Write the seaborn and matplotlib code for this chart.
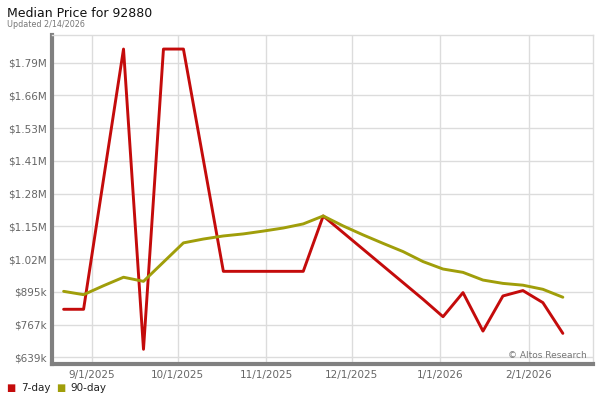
import pandas as pd
import matplotlib
matplotlib.use("Agg")
import matplotlib.pyplot as plt
import seaborn as sns

# Weekly data points
dates = pd.date_range("2025-08-22", "2026-02-13", freq="7D")
price_7day = [827, 827, 1335, 1842, 671, 1842, 1842, 1409, 975, 975,
              975, 975, 975, 1191, 1126, 1061, 996, 931, 866, 798,
              892, 742, 879, 900, 853, 733]
price_90day = [897, 884, 919, 952, 936, 1011, 1086, 1101, 1113, 1121,
               1132, 1144, 1160, 1191, 1152, 1117, 1084, 1052, 1013, 984,
               971, 941, 928, 921, 905, 874]
ytick_values = [639000, 766800, 894600, 1022400, 1150200,
                1278000, 1405800, 1533600, 1661400, 1789200]
ytick_labels = ["$639k", "$767k", "$895k", "$1.02M", "$1.15M",
                "$1.28M", "$1.41M", "$1.53M", "$1.66M", "$1.79M"]
xtick_dates = pd.to_datetime(["2025-09-01", "2025-10-01", "2025-11-01",
                              "2025-12-01", "2026-01-01", "2026-02-01"])
xtick_labels = ["9/1/2025", "10/1/2025", "11/1/2025",
                "12/1/2025", "1/1/2026", "2/1/2026"]

df = pd.DataFrame({
    "date": list(dates) * 2,
    "price": [v * 1000 for v in price_7day] + [v * 1000 for v in price_90day],
    "series": ["7-day"] * len(dates) + ["90-day"] * len(dates),
})

sns.set_style("white")
plt.rcParams["font.family"] = ["DejaVu Sans"]

palette = {"7-day": "#c40b0b", "90-day": "#a09e0a"}

fig = plt.figure(figsize=(6, 4), dpi=100)
ax = fig.add_axes([0.087, 0.09, 0.901, 0.8225])

sns.lineplot(data=df, x="date", y="price", hue="series", palette=palette,
             linewidth=2.1, ax=ax, legend=False, zorder=3)

ax.set_ylim(613600, 1896800)
ax.set_xlim(pd.Timestamp("2025-08-18"), pd.Timestamp("2026-02-23 12:00"))
ax.set_yticks(ytick_values)
ax.set_yticklabels(ytick_labels)
ax.set_xticks(xtick_dates)
ax.set_xticklabels(xtick_labels)
ax.tick_params(axis="both", length=0, labelsize=7.5, colors="#666666", pad=4)
ax.set_xlabel("")
ax.set_ylabel("")
ax.grid(True, color="#dcdcdc", linewidth=1)

for side in ["top", "right"]:
    ax.spines[side].set_color("#dcdcdc")
    ax.spines[side].set_linewidth(1)
for side in ["left", "bottom"]:
    ax.spines[side].set_color("#808080")
    ax.spines[side].set_linewidth(3)

fig.text(0.012, 0.957, "Median Price for 92880", fontsize=9, color="#111111")
fig.text(0.012, 0.932, "Updated 2/14/2026", fontsize=5.8, color="#777777")
ax.text(0.988, 0.012, "© Altos Research", transform=ax.transAxes,
        ha="right", va="bottom", fontsize=6.5, color="#777777")

# legend at bottom left
fig.text(0.01, 0.022, "■", color=palette["7-day"], fontsize=7)
fig.text(0.035, 0.022, "7-day", color="#222222", fontsize=7.5)
fig.text(0.093, 0.022, "■", color=palette["90-day"], fontsize=7)
fig.text(0.118, 0.022, "90-day", color="#222222", fontsize=7.5)

fig.savefig("out.png", dpi=100)
